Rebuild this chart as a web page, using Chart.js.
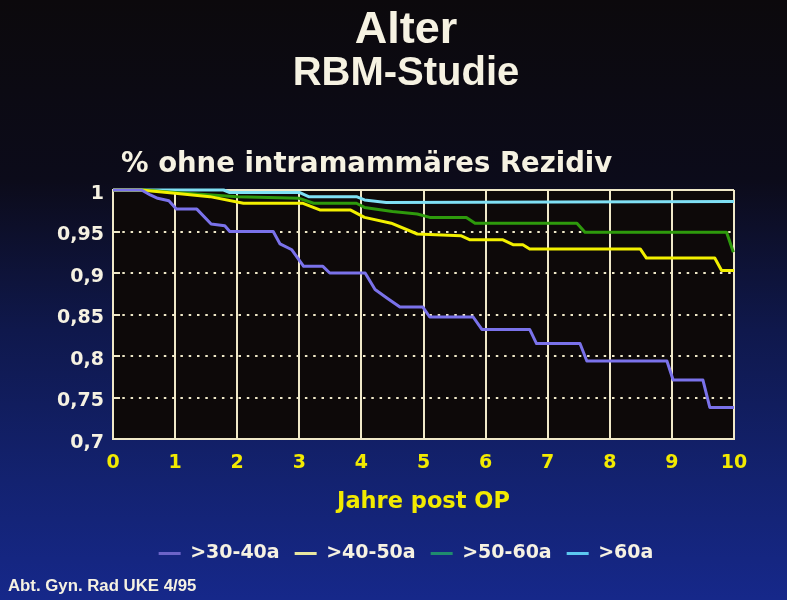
<!DOCTYPE html>
<html>
<head>
<meta charset="utf-8">
<script src="https://cdn.jsdelivr.net/npm/chart.js@4.4.0/dist/chart.umd.min.js"></script>
<style>
  html, body { margin: 0; padding: 0; background: #0c090c; }
  #wrap { width: 787px; height: 600px; }
</style>
</head>
<body>
<div id="wrap"><canvas id="myChart" width="787" height="600"></canvas></div>
<script>
// series names (legend)
const seriesNames = ['>30-40a', '>40-50a', '>50-60a', '>60a'];

// >30-40a : years / share without recurrence
const t30 = [0, 0.46, 0.6, 0.72, 0.9, 1.02, 1.35, 1.58, 1.8, 1.88, 2.58, 2.69, 2.88, 3.07, 3.38, 3.49, 4.06, 4.22, 4.41, 4.62, 4.99, 5.1, 5.8, 5.94, 6.71, 6.82, 7.52, 7.63, 8.92, 9.02, 9.5, 9.61, 10];
const s30 = [1, 1, 0.994, 0.99, 0.987, 0.977, 0.977, 0.959, 0.957, 0.95, 0.95, 0.935, 0.928, 0.908, 0.908, 0.9, 0.9, 0.88, 0.87, 0.859, 0.859, 0.847, 0.847, 0.832, 0.832, 0.815, 0.815, 0.794, 0.794, 0.771, 0.771, 0.738, 0.738];

// >40-50a
const t40 = [0, 0.45, 1.0, 1.56, 2.1, 3.06, 3.33, 3.82, 4.05, 4.48, 4.9, 5.6, 5.75, 6.28, 6.45, 6.6, 6.71, 8.49, 8.59, 9.69, 9.8, 10];
const s40 = [1, 1, 0.996, 0.992, 0.984, 0.984, 0.976, 0.976, 0.967, 0.96, 0.947, 0.945, 0.94, 0.94, 0.934, 0.934, 0.929, 0.929, 0.918, 0.918, 0.903, 0.903];

// >50-60a
const t50 = [0, 0.5, 1.0, 2.0, 3.0, 3.23, 3.92, 4.05, 4.5, 4.9, 5.1, 5.69, 5.83, 7.47, 7.6, 9.88, 9.99];
const s50 = [1, 1, 0.997, 0.992, 0.99, 0.984, 0.984, 0.979, 0.974, 0.971, 0.967, 0.967, 0.96, 0.96, 0.949, 0.949, 0.925];

// >60a
const t60 = [0, 1.78, 1.88, 3.0, 3.15, 3.92, 4.05, 4.4, 10];
const s60 = [1, 1, 0.997, 0.997, 0.992, 0.992, 0.988, 0.985, 0.986];

// axis ticks
const xTickValues = [0, 1, 2, 3, 4, 5, 6, 7, 8, 9, 10];
const yTickValues = [0.7, 0.75, 0.8, 0.85, 0.9, 0.95, 1];
const yTickLabels = ['0,7', '0,75', '0,8', '0,85', '0,9', '0,95', '1'];

const lineColors = ['#7a72ea', '#f2f000', '#2e9a0c', '#7fe0f4'];
const legendColors = ['#6c64c8', '#e8e6a0', '#1f8c6e', '#5cc8f0'];
const gridColor = '#efe8c8';
const textWhite = '#f6f2e2';
const textYellow = '#f2ea00';

const zip = (xs, ys) => xs.map((x, i) => ({ x: x, y: ys[i] }));
const series = [zip(t30, s30), zip(t40, s40), zip(t50, s50), zip(t60, s60)];

const data = {
  datasets: series.map((pts, i) => ({
    label: seriesNames[i],
    data: pts,
    borderColor: lineColors[i],
    backgroundColor: lineColors[i],
    borderWidth: 3,
    pointRadius: 0,
    tension: 0,
    borderJoinStyle: 'round',
    clip: 4,
  }))
};

// slide background + black plot area, heading and footer text
const slide = {
  id: 'slide',
  beforeDraw(chart) {
    const { ctx, chartArea: a, width, height } = chart;
    ctx.save();
    const g = ctx.createLinearGradient(0, 0, 0, height);
    g.addColorStop(0, '#0c090c');
    g.addColorStop(0.3, '#0c0b1a');
    g.addColorStop(0.55, '#0f184c');
    g.addColorStop(0.8, '#132270');
    g.addColorStop(1, '#16288a');
    ctx.fillStyle = g;
    ctx.fillRect(0, 0, width, height);
    ctx.fillStyle = '#0d0909';
    ctx.fillRect(a.left, a.top, a.right - a.left, a.bottom - a.top);
    ctx.restore();
  },
  afterDraw(chart) {
    const { ctx } = chart;
    ctx.save();
    ctx.textBaseline = 'alphabetic';
    ctx.textAlign = 'left';
    ctx.fillStyle = textWhite;
    ctx.font = 'bold 27.5px "DejaVu Sans"';
    ctx.fillText('% ohne intramammäres Rezidiv', 121, 172);
    ctx.font = 'bold 16.8px "Liberation Sans"';
    ctx.fillText('Abt. Gyn. Rad UKE 4/95', 8, 591);
    ctx.restore();
  }
};

const config = {
  type: 'line',
  data: data,
  options: {
    responsive: false,
    animation: false,
    layout: { padding: { left: 53, right: 28, top: 0, bottom: 27 } },
    scales: {
      x: {
        type: 'linear',
        min: 0,
        max: 10,
        afterBuildTicks(scale) { scale.ticks = xTickValues.map(v => ({ value: v })); },
        afterFit(scale) { scale.height = 90; },
        grid: { color: gridColor, lineWidth: 2, drawTicks: false },
        border: { color: gridColor, width: 2 },
        ticks: {
          color: textYellow,
          padding: 13,
          autoSkip: false,
          maxRotation: 0,
          font: { family: 'DejaVu Sans', weight: 'bold', size: 19 },
        },
        title: {
          display: true,
          text: 'Jahre post OP',
          color: textYellow,
          font: { family: 'DejaVu Sans', weight: 'bold', size: 22.5 },
          padding: { top: 0, bottom: 13 },
        }
      },
      y: {
        min: 0.7,
        max: 1,
        afterBuildTicks(scale) { scale.ticks = yTickValues.map(v => ({ value: v })); },
        afterFit(scale) { scale.width = 60; },
        // negative tick length: short solid stubs inside the frame
        grid: { color: gridColor, lineWidth: 2, drawTicks: true, tickLength: -7, tickColor: gridColor, tickWidth: 2 },
        border: {
          color: gridColor,
          width: 2,
          // dotted horizontal lines, solid frame on top
          dash: (c) => (c.tick && c.tick.value < 0.999) ? [2.5, 5.8] : [],
        },
        ticks: {
          color: textWhite,
          padding: 16,
          labelOffset: 4,
          font: { family: 'DejaVu Sans', weight: 'bold', size: 19 },
          callback: (value, index) => yTickLabels[index],
        }
      },
      // empty axis, only keeps room on the right side
      yRight: {
        position: 'right',
        afterFit(scale) { scale.width = 25; },
        grid: { display: false },
        border: { display: false },
        ticks: { display: false },
      }
    },
    plugins: {
      title: {
        display: true,
        text: 'Alter',
        color: textWhite,
        font: { family: 'Liberation Sans', weight: 'bold', size: 45, lineHeight: 1 },
        padding: { top: 8, bottom: 0 },
      },
      subtitle: {
        display: true,
        text: 'RBM-Studie',
        color: textWhite,
        font: { family: 'Liberation Sans', weight: 'bold', size: 40, lineHeight: 1 },
        padding: { top: 1, bottom: 96 },
      },
      legend: {
        position: 'bottom',
        labels: {
          color: textWhite,
          boxWidth: 22,
          boxHeight: 3,
          padding: 15,
          font: { family: 'DejaVu Sans', weight: 'bold', size: 19 },
          generateLabels(chart) {
            const items = Chart.defaults.plugins.legend.labels.generateLabels(chart);
            items.forEach((it, i) => {
              it.fillStyle = legendColors[i];
              it.strokeStyle = legendColors[i];
              it.lineWidth = 0;
            });
            return items;
          }
        }
      },
      tooltip: { enabled: false }
    }
  },
  plugins: [slide]
};

const myChart = new Chart(document.getElementById('myChart'), config);
</script>
</body>
</html>
